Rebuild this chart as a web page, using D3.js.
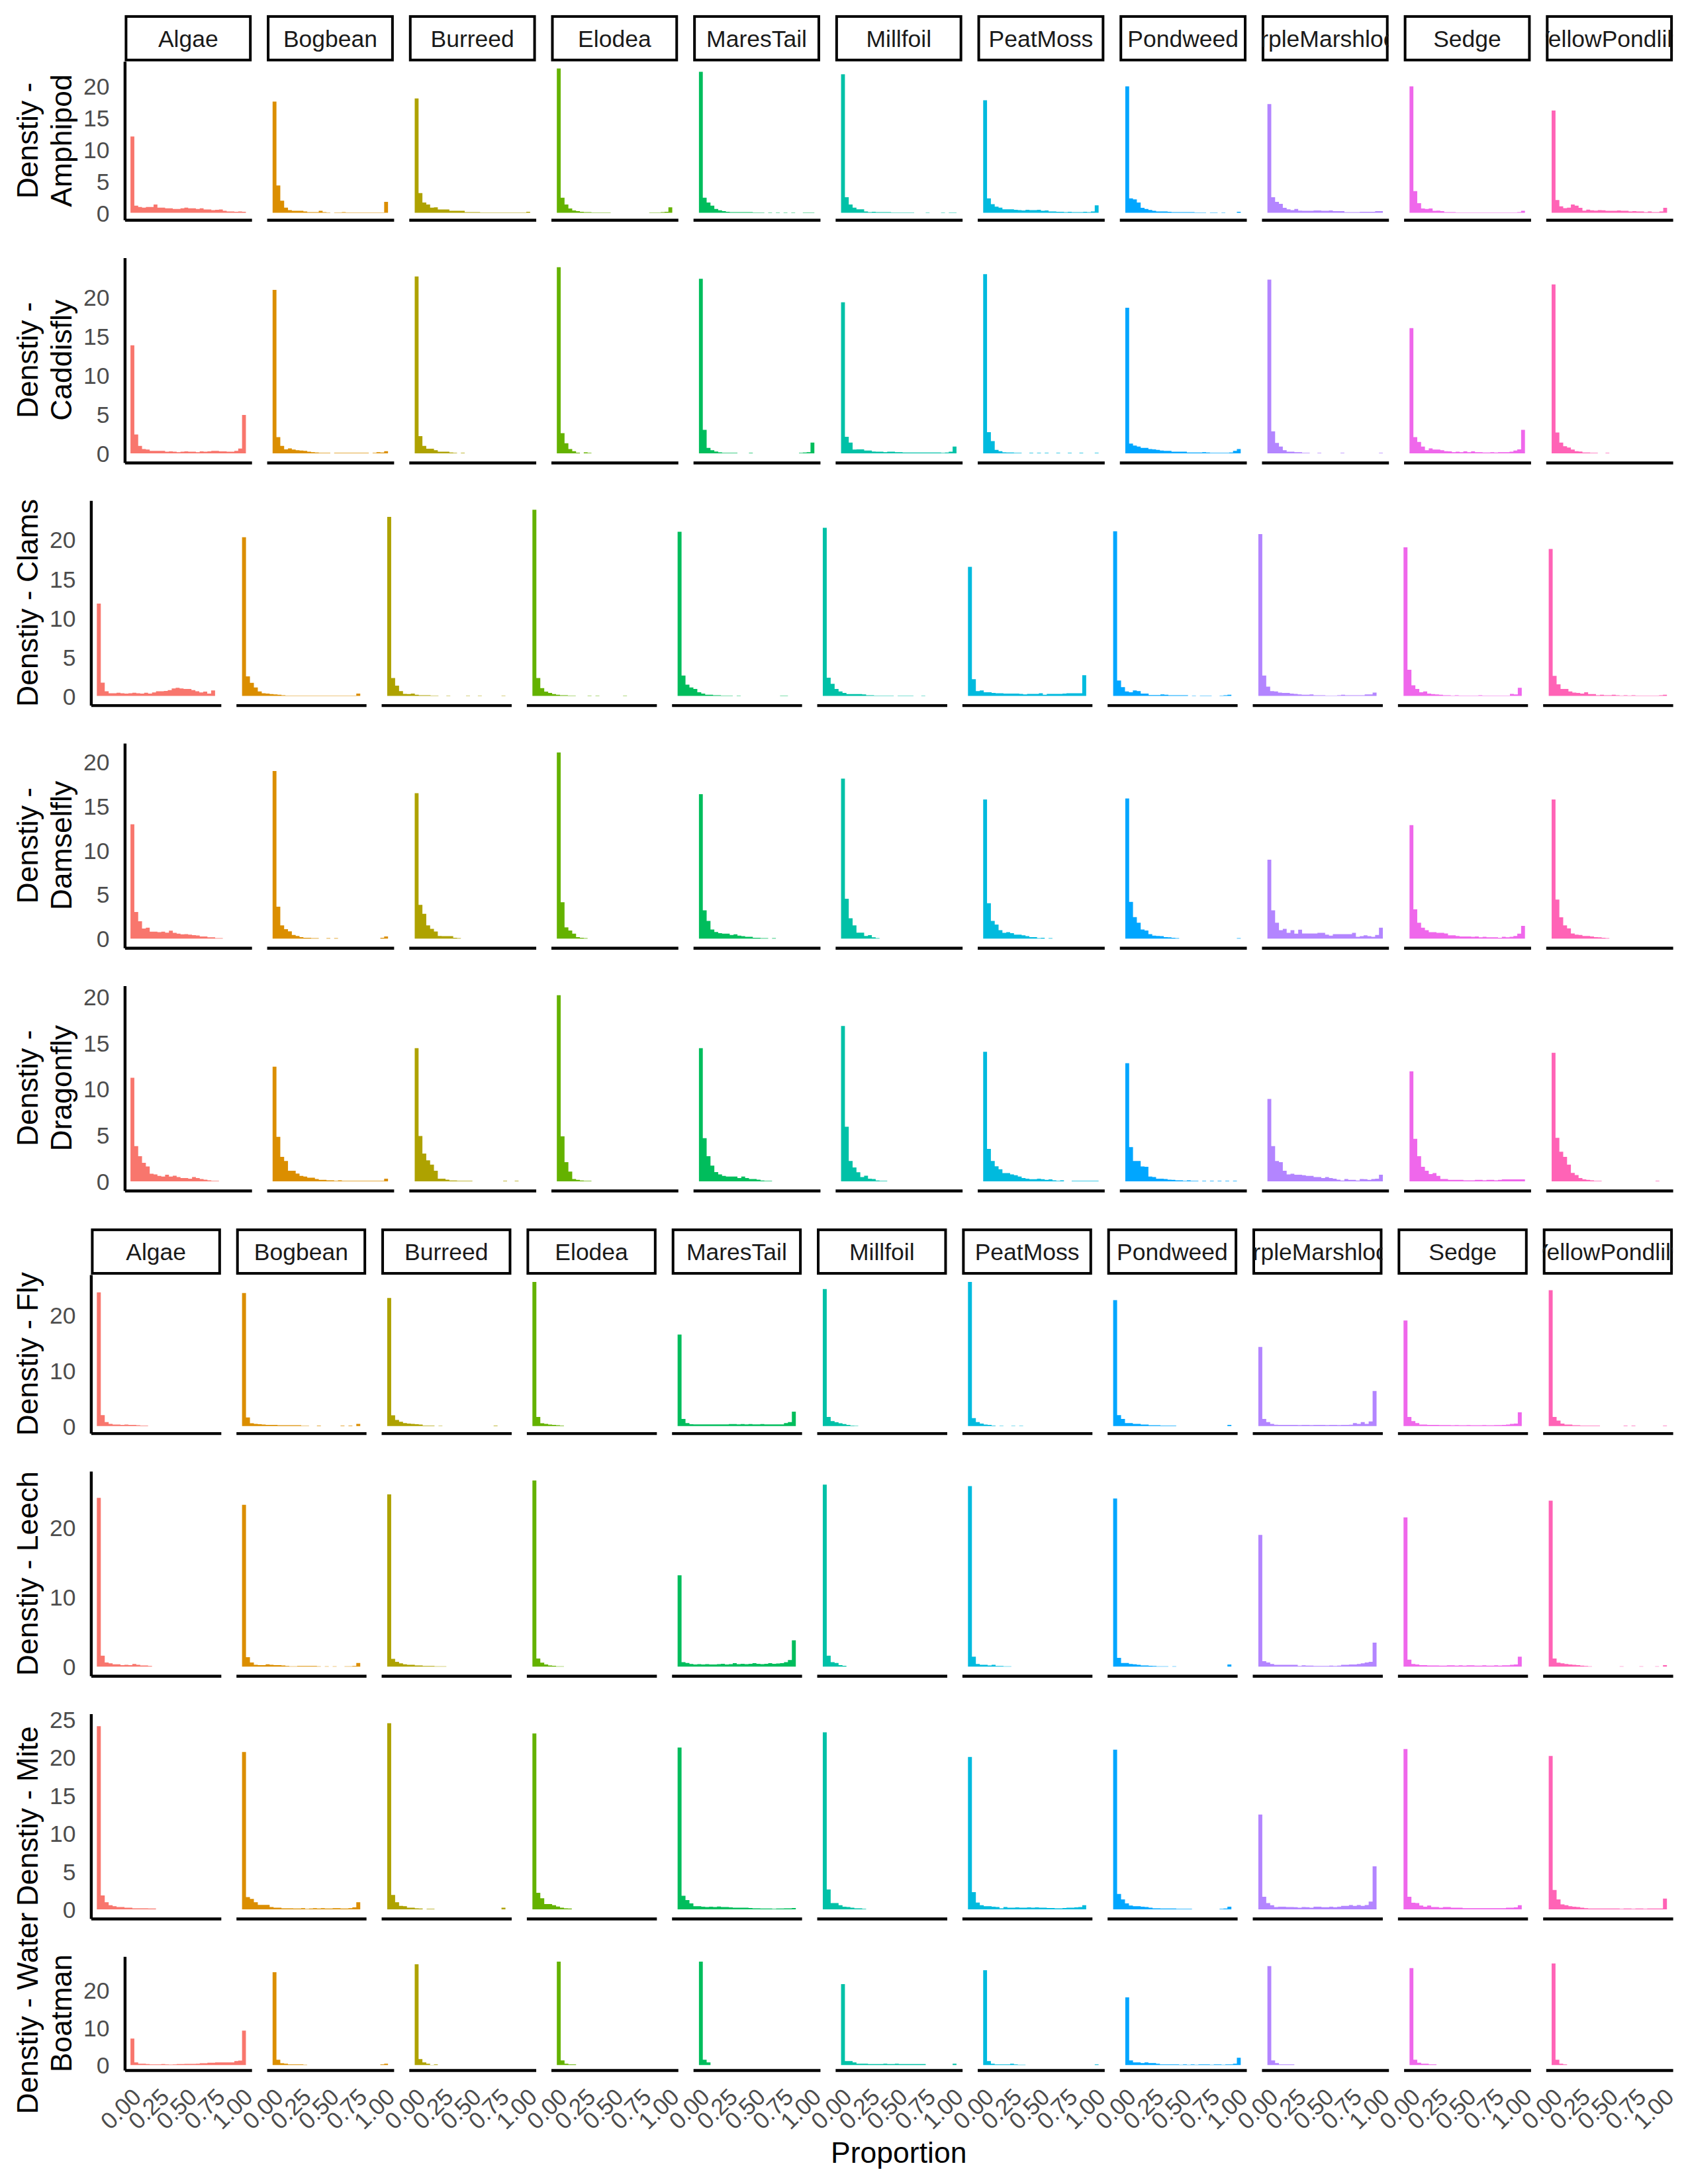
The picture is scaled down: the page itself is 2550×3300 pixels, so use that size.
<!DOCTYPE html>
<html>
<head>
<meta charset="utf-8">
<script src="https://cdn.jsdelivr.net/npm/d3@7"></script>
<style>
  html, body { margin: 0; padding: 0; background: #ffffff; }
  svg { display: block; }
</style>
</head>
<body>
<svg id="chart" width="2550" height="3300"></svg>
<script>
// ---------------- DATA ----------------
const plants = ["Algae","Bogbean","Burreed","Elodea","MaresTail","Millfoil","PeatMoss","Pondweed","PurpleMarshlocks","Sedge","YellowPondlily"];
const plantColors = ["#F8766D","#DB8E00","#AEA200","#64B200","#00BD5C","#00C1A7","#00BADE","#00A6FF","#B385FF","#EF67EB","#FF63B6"];
const taxa = ["Amphipod","Caddisfly","Clams","Damselfly","Dragonfly","Fly","Leech","Mite","WaterBoatman"];
const yTitles = [
  ["Denstiy -","Amphipod"],
  ["Denstiy -","Caddisfly"],
  ["Denstiy - Clams"],
  ["Denstiy -","Damselfly"],
  ["Denstiy -","Dragonfly"],
  ["Denstiy - Fly"],
  ["Denstiy - Leech"],
  ["Denstiy - Mite"],
  ["Denstiy - Water","Boatman"]
];
const yTickSets = [
  [0,5,10,15,20],[0,5,10,15,20],[0,5,10,15,20],[0,5,10,15,20],[0,5,10,15,20],
  [0,10,20],[0,10,20],[0,5,10,15,20,25],[0,10,20]
];
const xTickValues = [0,0.25,0.5,0.75,1];
const xTickLabels = ["0.00","0.25","0.50","0.75","1.00"];
const xTitle = "Proportion";
const nBins = 30;

// density per bin (30 bins over proportion 0..1), one row per plant
const amphipod = [
 [12.0,1.1,0.9,0.8,0.9,0.9,1.3,0.8,0.8,0.7,0.7,0.6,0.6,0.7,0.8,0.7,0.7,0.6,0.7,0.5,0.5,0.4,0.45,0.5,0.3,0.2,0.2,0.15,0.2,0.15],
 [17.5,4.3,1.9,0.8,0.4,0.3,0.3,0.3,0.2,0.1,0.1,0.1,0.3,0.1,0.05,0,0.05,0.05,0.1,0.05,0.05,0.05,0.05,0.05,0.05,0.05,0.05,0.05,0.05,1.7],
 [18.0,3.1,1.6,1.3,0.8,0.85,0.5,0.5,0.5,0.3,0.3,0.3,0.3,0.1,0.1,0.1,0.1,0.05,0.05,0.05,0.05,0.05,0.05,0.05,0.05,0.05,0.05,0.05,0.05,0.15],
 [22.7,2.35,1.3,0.67,0.35,0.25,0.15,0.1,0.1,0.05,0.05,0.05,0.05,0.05,0,0,0,0,0,0,0,0,0,0,0.05,0.05,0.05,0.1,0.15,0.86],
 [22.2,2.35,1.6,1.1,0.58,0.38,0.24,0.15,0.1,0.1,0.1,0.1,0.1,0.1,0.05,0.05,0.05,0,0.05,0,0.05,0,0.05,0,0.05,0,0,0.05,0.05,0.05],
 [21.8,2.45,1.3,0.8,0.53,0.53,0.2,0.1,0.15,0.1,0.1,0.1,0.1,0.05,0.05,0.05,0.05,0.05,0.05,0,0,0,0.05,0,0,0,0.05,0,0.05,0.05],
 [17.7,2.25,1.34,0.96,0.8,0.53,0.53,0.53,0.45,0.4,0.35,0.45,0.4,0.4,0.45,0.3,0.35,0.2,0.2,0.15,0.15,0.1,0.15,0.1,0.1,0.1,0.15,0.1,0.2,1.15],
 [19.9,2.25,2.1,1.6,0.77,0.58,0.43,0.3,0.2,0.2,0.2,0.15,0.1,0.1,0.1,0.1,0.1,0.1,0.05,0.05,0.05,0,0.05,0.05,0,0.05,0,0,0,0.15],
 [17.1,2.45,1.7,1.4,0.77,0.53,0.4,0.58,0.34,0.3,0.3,0.3,0.35,0.35,0.3,0.3,0.35,0.25,0.25,0.25,0.1,0.1,0.1,0.1,0.15,0.15,0.15,0.15,0.25,0.25],
 [19.9,3.4,1.5,0.67,0.58,0.67,0.3,0.34,0.25,0.1,0.1,0.1,0.05,0.05,0.05,0.05,0.05,0.05,0.05,0.05,0.05,0.05,0.05,0.05,0.05,0.05,0.05,0.05,0.1,0.3],
 [16.1,2.0,1.0,0.72,0.8,1.3,1.1,0.77,0.34,0.48,0.38,0.34,0.4,0.38,0.3,0.3,0.3,0.35,0.3,0.3,0.2,0.25,0.2,0.2,0.1,0.2,0.1,0.1,0.2,0.77]
];
const caddisfly = [
 [13.8,2.4,0.94,0.55,0.47,0.3,0.3,0.3,0.3,0.2,0.25,0.2,0.15,0.2,0.25,0.2,0.2,0.15,0.25,0.2,0.25,0.3,0.3,0.25,0.25,0.2,0.2,0.3,0.6,4.9],
 [20.9,2.07,0.94,0.5,0.62,0.47,0.39,0.35,0.3,0.2,0.15,0.1,0.05,0.05,0.05,0,0.05,0.05,0.05,0.05,0.05,0.05,0.05,0.05,0.05,0,0.05,0.15,0.1,0.27],
 [22.6,2.2,0.94,0.59,0.59,0.39,0.2,0.2,0.2,0.1,0.05,0,0.05,0,0,0,0,0,0,0,0,0,0,0,0,0,0,0,0,0],
 [23.8,2.58,1.29,0.55,0.27,0.08,0,0.12,0.05,0,0,0,0,0,0,0,0,0,0,0,0,0,0,0,0,0,0,0,0,0],
 [22.3,3.0,0.7,0.39,0.23,0.12,0.05,0.05,0.05,0.05,0,0,0,0.05,0,0,0,0,0,0,0,0,0,0,0,0,0.05,0.1,0.15,1.37],
 [19.3,2.1,1.37,0.47,0.5,0.5,0.35,0.35,0.23,0.2,0.2,0.15,0.2,0.2,0.15,0.15,0.1,0.1,0.1,0.1,0.1,0.1,0.1,0.1,0.1,0.1,0.05,0.1,0.2,0.86],
 [22.9,2.7,1.56,0.43,0.27,0.12,0.1,0.1,0.05,0.05,0,0,0.05,0,0.05,0,0.05,0,0,0.05,0,0,0.05,0,0,0.05,0,0,0,0.05],
 [18.6,1.25,0.98,0.86,0.7,0.7,0.55,0.5,0.43,0.35,0.3,0.3,0.2,0.2,0.2,0.2,0.1,0.1,0.1,0.1,0.15,0.1,0.05,0.05,0.05,0.05,0.05,0.1,0.3,0.55],
 [22.2,2.8,1.33,0.86,0.39,0.2,0.2,0.15,0.15,0.05,0.05,0,0,0.05,0,0,0,0,0,0.05,0,0,0,0,0,0,0,0,0,0.05],
 [16.0,2.07,1.45,0.86,0.39,0.62,0.47,0.47,0.39,0.27,0.25,0.15,0.2,0.15,0.25,0.15,0.25,0.15,0.15,0.1,0.1,0.15,0.1,0.15,0.15,0.15,0.2,0.35,0.5,3.0],
 [21.6,2.66,1.37,0.9,0.74,0.47,0.27,0.23,0.1,0.1,0.05,0.05,0,0,0.05,0,0,0,0,0,0,0,0,0,0,0,0,0,0,0]
];
const clams = [
 [11.8,1.7,0.6,0.35,0.35,0.4,0.35,0.3,0.35,0.4,0.35,0.3,0.4,0.3,0.45,0.6,0.6,0.65,0.75,0.95,1.05,0.95,0.9,0.9,0.75,0.6,0.45,0.55,0.3,0.7],
 [20.3,2.5,1.67,1.09,0.58,0.35,0.31,0.23,0.2,0.15,0.1,0.05,0.05,0.05,0.05,0.05,0.05,0.05,0.05,0.05,0.05,0.05,0.05,0.05,0.05,0.05,0.05,0.05,0.05,0.31],
 [22.9,2.3,1.32,0.62,0.27,0.23,0.31,0.15,0.1,0.1,0.1,0.05,0.05,0,0,0.05,0,0,0,0,0.05,0,0,0.05,0,0,0,0,0,0.05],
 [23.8,2.3,1.0,0.55,0.39,0.23,0.15,0.1,0.1,0.05,0.05,0,0,0,0.05,0,0.05,0,0,0,0,0,0,0.05,0,0,0,0,0,0],
 [21.0,2.6,1.44,1.09,0.9,0.47,0.31,0.15,0.15,0.1,0.1,0.05,0.05,0.05,0,0.05,0,0,0,0,0,0,0,0,0,0,0.05,0.05,0,0],
 [21.5,2.33,1.56,0.9,0.58,0.39,0.23,0.23,0.23,0.23,0.2,0.1,0.1,0.05,0.05,0.05,0.05,0.05,0,0.05,0.05,0.05,0.05,0,0,0.05,0,0,0,0],
 [16.5,2.14,0.62,0.7,0.47,0.47,0.39,0.35,0.35,0.3,0.3,0.3,0.3,0.25,0.2,0.25,0.25,0.25,0.35,0.15,0.25,0.25,0.25,0.25,0.3,0.35,0.35,0.35,0.35,2.65],
 [21.05,1.98,1.13,0.58,0.47,0.7,0.62,0.31,0.31,0.12,0.12,0.12,0.2,0.15,0.1,0.1,0.1,0.1,0.1,0,0.05,0,0.05,0.05,0.05,0,0,0.05,0.1,0.15],
 [20.7,2.6,1.2,0.62,0.58,0.43,0.39,0.39,0.31,0.25,0.2,0.15,0.15,0.2,0.1,0.1,0.1,0.05,0.05,0.05,0.1,0.15,0.1,0.1,0.1,0.1,0.1,0.2,0.2,0.43],
 [19.0,3.35,1.36,0.9,0.47,0.58,0.31,0.23,0.2,0.15,0.1,0.1,0.05,0.1,0.05,0.05,0.05,0.05,0.05,0.1,0.05,0.05,0.05,0.05,0.05,0.05,0.05,0.25,0.2,1.05],
 [18.8,2.57,1.48,0.9,0.9,0.58,0.43,0.39,0.31,0.47,0.23,0.23,0.1,0.15,0.1,0.1,0.15,0.1,0.05,0.1,0.05,0.1,0.05,0.05,0.05,0.05,0.05,0.05,0.1,0.15]
];
const damselfly = [
 [12.9,3.0,1.95,1.13,1.23,0.79,0.79,0.72,0.79,0.68,0.89,0.65,0.55,0.48,0.5,0.45,0.4,0.35,0.25,0.25,0.15,0.15,0.05,0.05,0,0,0,0,0,0],
 [18.9,3.6,1.5,1.06,0.82,0.41,0.3,0.17,0.1,0.1,0.05,0.05,0,0,0.05,0,0.05,0,0,0,0,0,0,0,0,0,0,0,0.1,0.24],
 [16.4,3.8,2.8,1.5,1.1,0.8,0.3,0.27,0.27,0.27,0.1,0.05,0,0,0,0,0,0,0,0,0,0,0,0,0,0,0,0,0,0],
 [21.0,4.1,1.27,0.92,0.55,0.17,0.1,0.05,0,0,0,0,0,0,0,0,0,0,0,0,0,0,0,0,0,0,0,0,0,0],
 [16.3,3.2,2.0,1.03,0.75,0.62,0.55,0.55,0.41,0.48,0.34,0.27,0.2,0.2,0.1,0.1,0.05,0.05,0,0.05,0,0,0,0,0,0,0,0,0,0],
 [18.05,4.5,2.3,1.5,0.68,0.68,0.3,0.4,0.14,0.05,0,0,0,0,0,0,0,0,0,0,0,0,0,0,0,0,0,0,0,0],
 [15.7,4.0,2.0,1.58,0.96,0.65,0.72,0.62,0.45,0.45,0.38,0.27,0.17,0.17,0.05,0.1,0,0.05,0,0,0,0,0,0,0,0,0,0,0,0],
 [15.8,4.14,2.43,1.8,1.03,0.92,0.51,0.34,0.3,0.27,0.17,0.14,0.1,0.05,0,0,0,0,0,0,0,0,0,0,0,0,0,0,0,0.05],
 [8.9,3.2,1.8,0.96,1.1,0.65,0.96,0.55,1.0,0.58,0.58,0.58,0.58,0.65,0.65,0.45,0.34,0.51,0.51,0.51,0.51,0.51,0.65,0.2,0.27,0.38,0.27,0.2,0.41,1.23],
 [12.8,3.3,1.8,1.23,0.96,0.72,0.72,0.65,0.65,0.58,0.38,0.38,0.3,0.25,0.25,0.25,0.2,0.25,0.15,0.2,0.15,0.15,0.15,0.1,0.2,0.15,0.2,0.3,0.55,1.44],
 [15.7,4.4,2.4,1.5,1.16,0.58,0.45,0.41,0.3,0.3,0.24,0.17,0.14,0.1,0.05,0,0,0,0,0,0,0,0,0,0,0,0,0,0,0]
];
const dragonfly = [
 [11.2,3.8,2.72,2.0,1.6,0.81,0.74,0.58,0.51,0.71,0.51,0.61,0.45,0.35,0.35,0.28,0.45,0.35,0.25,0.18,0.1,0.05,0.05,0,0,0,0,0,0,0],
 [12.4,4.8,2.65,2.2,1.14,1.14,0.84,0.58,0.51,0.38,0.38,0.25,0.15,0.15,0.1,0.1,0.05,0.1,0.05,0.05,0.05,0.05,0.05,0.05,0.05,0.05,0.05,0.05,0.05,0.28],
 [14.4,4.9,3.0,2.26,1.8,1.14,0.28,0.28,0.18,0.09,0.09,0.05,0.05,0.05,0.05,0,0,0,0,0,0,0,0,0.05,0,0,0.05,0,0,0],
 [20.13,4.86,2.06,1.04,0.25,0.15,0.08,0.05,0.05,0,0,0,0,0,0,0,0,0,0,0,0,0,0,0,0,0,0,0,0,0],
 [14.4,4.66,2.72,1.7,1.0,0.74,0.58,0.51,0.51,0.51,0.35,0.51,0.35,0.25,0.25,0.18,0.08,0.05,0.05,0,0,0,0,0,0,0,0,0,0,0],
 [16.8,5.9,2.2,1.5,0.97,0.45,0.61,0.28,0.25,0.08,0.05,0.05,0,0,0,0,0,0,0,0,0,0,0,0,0,0,0,0,0,0],
 [14.0,3.5,2.2,1.63,1.3,0.88,0.88,0.74,0.65,0.51,0.35,0.28,0.22,0.22,0.28,0.22,0.15,0.2,0.1,0.05,0.1,0,0,0.05,0.05,0.05,0.05,0.05,0.05,0.05],
 [12.76,3.7,2.2,2.2,1.6,1.57,0.51,0.45,0.28,0.28,0.25,0.18,0.15,0.1,0.1,0.05,0.1,0.05,0.05,0,0.05,0,0.05,0,0.05,0,0.05,0,0.05,0],
 [8.9,3.8,2.2,2.06,1.14,0.74,0.81,0.71,0.71,0.65,0.58,0.58,0.45,0.45,0.35,0.45,0.35,0.28,0.18,0.08,0.25,0.15,0.15,0.08,0.25,0.22,0.15,0.25,0.28,0.71],
 [11.9,4.6,2.72,1.57,1.14,0.78,0.88,0.58,0.25,0.25,0.15,0.15,0.15,0.15,0.1,0.1,0.1,0.15,0.15,0.1,0.15,0.15,0.1,0.15,0.2,0.2,0.2,0.2,0.2,0.2],
 [13.9,4.7,3.2,2.65,1.8,0.91,0.68,0.35,0.2,0.15,0.1,0.05,0.05,0,0,0,0,0,0,0,0,0,0,0,0,0,0,0.05,0,0]
];
const fly = [
 [24.1,1.98,0.72,0.39,0.28,0.28,0.2,0.28,0.2,0.2,0.15,0.1,0.1,0,0,0,0,0,0,0,0,0,0,0,0,0,0,0,0,0],
 [24.0,1.54,0.5,0.39,0.33,0.28,0.22,0.2,0.2,0.15,0.15,0.15,0.15,0.15,0.15,0.05,0.05,0,0,0.1,0,0,0,0,0,0.1,0,0.1,0,0.39],
 [23.1,1.93,1.1,0.77,0.55,0.44,0.39,0.33,0.28,0.1,0.1,0.1,0,0.05,0,0,0,0,0,0,0,0,0,0,0,0,0,0.1,0,0],
 [26.0,1.65,0.5,0.39,0.28,0.22,0.15,0.1,0,0,0,0,0,0,0,0,0,0,0,0,0,0,0,0,0,0,0,0,0,0],
 [16.5,1.27,0.55,0.33,0.3,0.3,0.3,0.3,0.3,0.3,0.3,0.3,0.3,0.35,0.35,0.3,0.35,0.3,0.35,0.3,0.3,0.35,0.3,0.3,0.3,0.3,0.3,0.55,0.72,2.6],
 [24.7,1.65,0.9,0.7,0.5,0.35,0.2,0.1,0.05,0,0,0,0,0,0,0,0,0,0,0,0,0,0,0,0,0,0,0,0,0],
 [26.0,1.43,0.72,0.44,0.28,0.22,0.1,0,0.05,0,0,0.05,0,0.05,0,0,0,0,0,0,0,0,0,0,0,0,0,0,0,0],
 [22.7,1.98,1.27,0.55,0.55,0.39,0.39,0.28,0.28,0.15,0.15,0.15,0.1,0.1,0.1,0.1,0,0,0,0,0,0,0,0,0,0,0,0,0,0.22],
 [14.26,1.27,0.72,0.39,0.25,0.22,0.22,0.2,0.2,0.2,0.18,0.2,0.22,0.18,0.2,0.22,0.2,0.18,0.22,0.2,0.18,0.2,0.22,0.25,0.55,0.39,0.72,0.39,0.83,6.33],
 [19.05,1.65,0.88,0.55,0.28,0.28,0.22,0.22,0.2,0.18,0.18,0.18,0.15,0.18,0.15,0.15,0.18,0.15,0.15,0.15,0.18,0.15,0.15,0.18,0.18,0.2,0.28,0.39,0.44,2.48],
 [24.5,1.65,0.99,0.44,0.28,0.28,0.15,0.15,0.1,0.1,0.1,0.1,0.1,0,0,0,0,0,0,0.1,0,0.1,0,0,0,0,0,0,0,0.1]
];
const leech = [
 [24.2,1.56,0.6,0.47,0.34,0.34,0.21,0.25,0.21,0.38,0.25,0.17,0.17,0.1,0,0,0,0,0,0,0,0,0,0,0,0,0,0,0,0],
 [23.2,1.34,0.6,0.25,0.21,0.21,0.34,0.25,0.21,0.21,0.17,0.1,0.05,0.05,0.1,0.1,0.1,0.1,0.1,0.05,0,0.05,0,0.05,0,0,0.05,0.05,0.1,0.51],
 [24.7,1.12,0.69,0.47,0.34,0.25,0.25,0.17,0.17,0.1,0.1,0.1,0.05,0.05,0.05,0,0,0,0,0,0,0,0,0,0,0,0,0,0,0],
 [26.7,1.17,0.56,0.3,0.17,0.12,0.05,0.05,0,0,0,0,0,0,0,0,0,0,0,0,0,0,0,0,0,0,0,0,0,0],
 [13.1,0.64,0.51,0.38,0.3,0.35,0.3,0.35,0.3,0.3,0.35,0.4,0.3,0.35,0.5,0.35,0.4,0.35,0.4,0.5,0.4,0.35,0.4,0.5,0.4,0.45,0.5,0.64,0.95,3.78],
 [26.1,1.56,0.64,0.51,0.21,0.12,0,0,0,0,0,0,0,0,0,0,0,0,0,0,0,0,0,0,0,0,0,0,0,0],
 [25.9,1.43,0.38,0.25,0.25,0.17,0.25,0.1,0.1,0.05,0.05,0,0,0,0,0,0,0,0,0,0,0,0,0,0,0,0,0,0,0],
 [24.1,1.25,0.51,0.51,0.38,0.34,0.25,0.17,0.17,0.12,0.1,0.05,0.05,0.05,0,0.05,0,0,0,0,0,0,0,0,0,0,0,0,0,0.3],
 [18.9,0.77,0.6,0.38,0.25,0.25,0.25,0.25,0.25,0.25,0.1,0.2,0.15,0.15,0.1,0.1,0.1,0.1,0.15,0.1,0.15,0.25,0.25,0.3,0.3,0.38,0.47,0.6,0.69,3.43],
 [21.4,0.99,0.38,0.3,0.21,0.21,0.17,0.17,0.17,0.15,0.15,0.2,0.2,0.15,0.2,0.15,0.2,0.2,0.15,0.15,0.2,0.15,0.15,0.2,0.15,0.2,0.2,0.25,0.3,1.43],
 [23.8,1.17,0.56,0.47,0.38,0.3,0.25,0.21,0.15,0.1,0.05,0,0,0,0,0,0,0,0.05,0,0,0,0,0.05,0,0,0,0.05,0,0.21]
];
const mite = [
 [24.05,1.81,0.93,0.53,0.41,0.29,0.29,0.21,0.21,0.13,0.13,0.13,0.13,0.1,0.1,0,0,0,0,0,0,0,0,0,0,0,0,0,0,0],
 [20.65,1.61,1.37,0.93,0.57,0.57,0.57,0.29,0.21,0.21,0.13,0.13,0.13,0.1,0.1,0.15,0.05,0.1,0.15,0.1,0.15,0.1,0.1,0.15,0.15,0.1,0.1,0.15,0.25,0.93],
 [24.45,1.89,0.93,0.45,0.41,0.21,0.21,0.13,0.1,0,0.05,0.05,0,0,0,0,0,0,0,0,0,0,0,0,0,0,0,0,0,0.21],
 [23.1,2.17,1.45,0.69,0.69,0.53,0.37,0.21,0.13,0.1,0,0,0,0,0,0,0,0,0,0,0,0,0,0,0,0,0,0,0,0],
 [21.25,1.77,1.21,0.77,0.41,0.41,0.33,0.29,0.33,0.29,0.37,0.29,0.29,0.25,0.21,0.21,0.21,0.21,0.17,0.13,0.13,0.1,0.1,0.1,0.05,0.1,0.1,0.13,0.13,0.17],
 [23.25,2.61,0.81,0.81,0.53,0.33,0.29,0.21,0.13,0.13,0.05,0,0,0,0,0,0,0,0,0,0,0,0,0,0,0,0,0,0,0],
 [20.0,2.25,0.89,0.53,0.41,0.41,0.33,0.29,0.13,0.29,0.21,0.21,0.25,0.21,0.21,0.25,0.21,0.25,0.21,0.21,0.17,0.17,0.13,0.13,0.17,0.21,0.21,0.25,0.3,0.53],
 [20.97,2.01,1.29,0.77,0.49,0.41,0.41,0.33,0.29,0.21,0.13,0.13,0.1,0.1,0.1,0.1,0.05,0.05,0.05,0.05,0,0,0,0,0,0,0,0.05,0.1,0.33],
 [12.45,1.65,0.81,0.53,0.3,0.33,0.33,0.3,0.3,0.27,0.2,0.3,0.27,0.2,0.33,0.33,0.27,0.27,0.33,0.27,0.33,0.45,0.45,0.55,0.45,0.55,0.45,0.55,1.01,5.65],
 [21.05,1.65,0.85,0.81,0.49,0.33,0.49,0.29,0.29,0.21,0.29,0.29,0.21,0.21,0.21,0.15,0.15,0.15,0.15,0.15,0.15,0.15,0.15,0.15,0.15,0.15,0.2,0.2,0.25,0.53],
 [20.13,2.53,1.29,0.65,0.53,0.41,0.33,0.29,0.21,0.15,0.1,0.1,0.1,0.1,0.1,0.1,0.1,0.1,0.05,0.1,0.1,0.05,0.1,0.1,0.05,0.1,0.1,0.1,0.1,1.41]
];
const waterBoatman = [
 [7.08,0.71,0.35,0.35,0.24,0.18,0.18,0.18,0.24,0.18,0.12,0.18,0.24,0.24,0.3,0.3,0.3,0.35,0.47,0.47,0.59,0.59,0.71,0.71,0.71,0.71,0.71,1.06,1.18,9.2],
 [24.8,1.42,0.47,0.35,0.18,0.18,0.18,0.18,0.1,0,0,0,0,0,0,0,0,0,0,0,0,0,0,0,0,0,0,0,0.18,0.35],
 [26.9,1.59,0.71,0.35,0.05,0.18,0,0,0,0,0,0,0,0,0,0,0,0,0,0,0,0,0,0,0,0,0,0,0,0],
 [27.6,1.24,0.35,0.18,0.18,0,0,0,0,0,0,0,0,0,0,0,0,0,0,0,0,0,0,0,0,0,0,0,0,0],
 [27.6,1.42,0.71,0,0,0,0,0,0,0,0,0,0,0,0,0,0,0,0,0,0,0,0,0,0,0,0,0,0,0],
 [21.6,1.06,1.06,0.71,0.35,0.35,0.35,0.24,0.24,0.24,0.24,0.35,0.24,0.24,0.35,0.24,0.24,0.24,0.24,0.24,0.24,0.24,0,0,0,0,0,0,0,0.35],
 [25.3,1.06,0.35,0.18,0.18,0.18,0.18,0.35,0.18,0.1,0.1,0,0,0,0,0,0,0,0,0,0,0,0,0,0,0,0,0,0,0.18],
 [18.06,1.24,0.71,0.71,0.53,0.71,0.53,0.53,0.35,0.18,0.18,0.18,0.18,0.18,0.1,0.18,0.1,0.18,0.1,0.18,0.18,0.18,0.1,0.18,0.18,0.1,0.18,0.18,0.35,1.95],
 [26.4,1.24,0.53,0.18,0.18,0.18,0.18,0,0,0,0,0,0,0,0,0,0,0,0,0,0,0,0,0,0,0,0,0,0,0],
 [25.9,1.42,0.59,0.35,0.35,0.18,0.18,0,0,0,0,0,0,0,0,0,0,0,0,0,0,0,0,0,0,0,0,0,0,0],
 [27.1,1.42,0.35,0.18,0,0,0,0,0,0,0,0,0,0,0,0,0,0,0,0,0,0,0,0,0,0,0,0,0,0]
];
const taxonValues = [amphipod, caddisfly, clams, damselfly, dragonfly, fly, leech, mite, waterBoatman];

// ---------------- LAYOUT ----------------
const W = 2550, H = 3300;
const rowH = H / taxa.length;
const outer = 22.9, gap = 22.9;
const lineW = 4.4;
const FONT = "'Liberation Sans', Arial, Helvetica, sans-serif";
const tickFont = 35.5, titleFont = 44.5, stripFont = 35.5;
const stripRows = [0, 5];
const binW = 1 / (nBins - 1);
const binCenters = d3.range(nBins).map(k => k * binW);
const span = 1 + binW;
const xDomain = [-binW / 2 - 0.05 * span, 1 + binW / 2 + 0.05 * span];

taxonValues.forEach((arr, i) => arr.forEach((a, j) => {
  if (a.length !== nBins) console.error("length mismatch", taxa[i], plants[j], a.length);
}));

const svg = d3.select("#chart");
svg.append("rect").attr("width", W).attr("height", H).attr("fill", "#ffffff");
const defs = svg.append("defs");

function histPath(vals, x, y) {
  let d = "";
  let k = 0;
  const y0 = y(0);
  while (k < vals.length) {
    if (!(vals[k] > 0)) { k++; continue; }
    let p = `M${x(binCenters[k] - binW / 2)},${y0}`;
    while (k < vals.length && vals[k] > 0) {
      p += `V${y(vals[k])}H${x(binCenters[k] + binW / 2)}`;
      k++;
    }
    p += `V${y0}Z`;
    d += p;
  }
  return d;
}

taxa.forEach((taxon, i) => {
  const values = taxonValues[i];
  const top = i * rowH;
  const hasStrip = stripRows.includes(i);
  const isLast = i === taxa.length - 1;
  const panelTop = top + (hasStrip ? 92.7 : outer);
  const panelBottom = isLast ? 3128 : top + 332.3;
  const left = yTitles[i].length === 2 ? 188.4 : 137.4;
  const pw = (W - outer - left - 10 * gap) / 11;
  const ymax = d3.max(values.flat());
  const y = d3.scaleLinear().domain([-0.05 * ymax, 1.05 * ymax]).range([panelBottom, panelTop]);

  const rowG = svg.append("g").attr("class", "row-" + taxon);

  values.forEach((vals, j) => {
    const px = left + j * (pw + gap);
    const x = d3.scaleLinear().domain(xDomain).range([px, px + pw]);

    // histogram bars
    rowG.append("path")
      .attr("d", histPath(vals, x, y))
      .attr("fill", plantColors[j]);

    // x axis line (+ labels on last row)
    const axis = d3.axisBottom(x)
      .tickValues(isLast ? xTickValues : [])
      .tickSize(0).tickSizeOuter(0)
      .tickFormat(d => xTickLabels[xTickValues.indexOf(d)]);
    const axG = rowG.append("g")
      .attr("transform", `translate(0,${panelBottom})`)
      .call(axis);
    axG.attr("font-family", FONT).attr("font-size", tickFont);
    axG.select(".domain").attr("stroke", "#000").attr("stroke-width", lineW);
    axG.selectAll(".tick line").remove();
    const off = 0.716 * tickFont * Math.SQRT1_2;
    axG.selectAll(".tick text")
      .attr("y", null).attr("dy", null)
      .attr("text-anchor", "end")
      .attr("fill", "#4D4D4D")
      .attr("transform", `translate(${off - 3},${20.7 + 4 + off}) rotate(-45)`);

    // facet strip
    if (hasStrip) {
      const sTop = top + outer, sBot = top + 92.7;
      const cid = `clip-${i}-${j}`;
      defs.append("clipPath").attr("id", cid)
        .append("rect").attr("x", px).attr("y", sTop).attr("width", pw).attr("height", sBot - sTop);
      rowG.append("rect")
        .attr("x", px + 2).attr("y", sTop + 2)
        .attr("width", pw - 4).attr("height", sBot - sTop - 4)
        .attr("fill", "#ffffff").attr("stroke", "#000").attr("stroke-width", 4);
      rowG.append("text")
        .attr("clip-path", `url(#${cid})`)
        .attr("x", px + pw / 2)
        .attr("y", (sTop + sBot) / 2 + 0.358 * stripFont)
        .attr("text-anchor", "middle")
        .attr("font-family", FONT).attr("font-size", stripFont)
        .attr("fill", "#1A1A1A")
        .text(plants[j]);
    }
  });

  // y axis on first panel
  const yAxis = d3.axisLeft(y).tickValues(yTickSets[i]).tickSize(0).tickSizeOuter(0).tickPadding(23);
  const yG = rowG.append("g").attr("transform", `translate(${left},0)`).call(yAxis);
  yG.attr("font-family", FONT).attr("font-size", tickFont);
  yG.select(".domain").attr("stroke", "#000").attr("stroke-width", lineW);
  yG.selectAll(".tick line").remove();
  yG.selectAll(".tick text").attr("fill", "#4D4D4D").attr("dy", "0.358em");

  // y title
  const cy = (panelTop + panelBottom) / 2;
  yTitles[i].forEach((line, li) => {
    svg.append("text")
      .attr("transform", `translate(${57 + li * 50.5},${cy}) rotate(-90)`)
      .attr("text-anchor", "middle")
      .attr("font-family", FONT).attr("font-size", titleFont)
      .attr("fill", "#000")
      .text(line);
  });

  if (isLast) {
    svg.append("text")
      .attr("x", (left + W - outer) / 2)
      .attr("y", 3268)
      .attr("text-anchor", "middle")
      .attr("font-family", FONT).attr("font-size", titleFont)
      .attr("fill", "#000")
      .text(xTitle);
  }
});
</script>
</body>
</html>
